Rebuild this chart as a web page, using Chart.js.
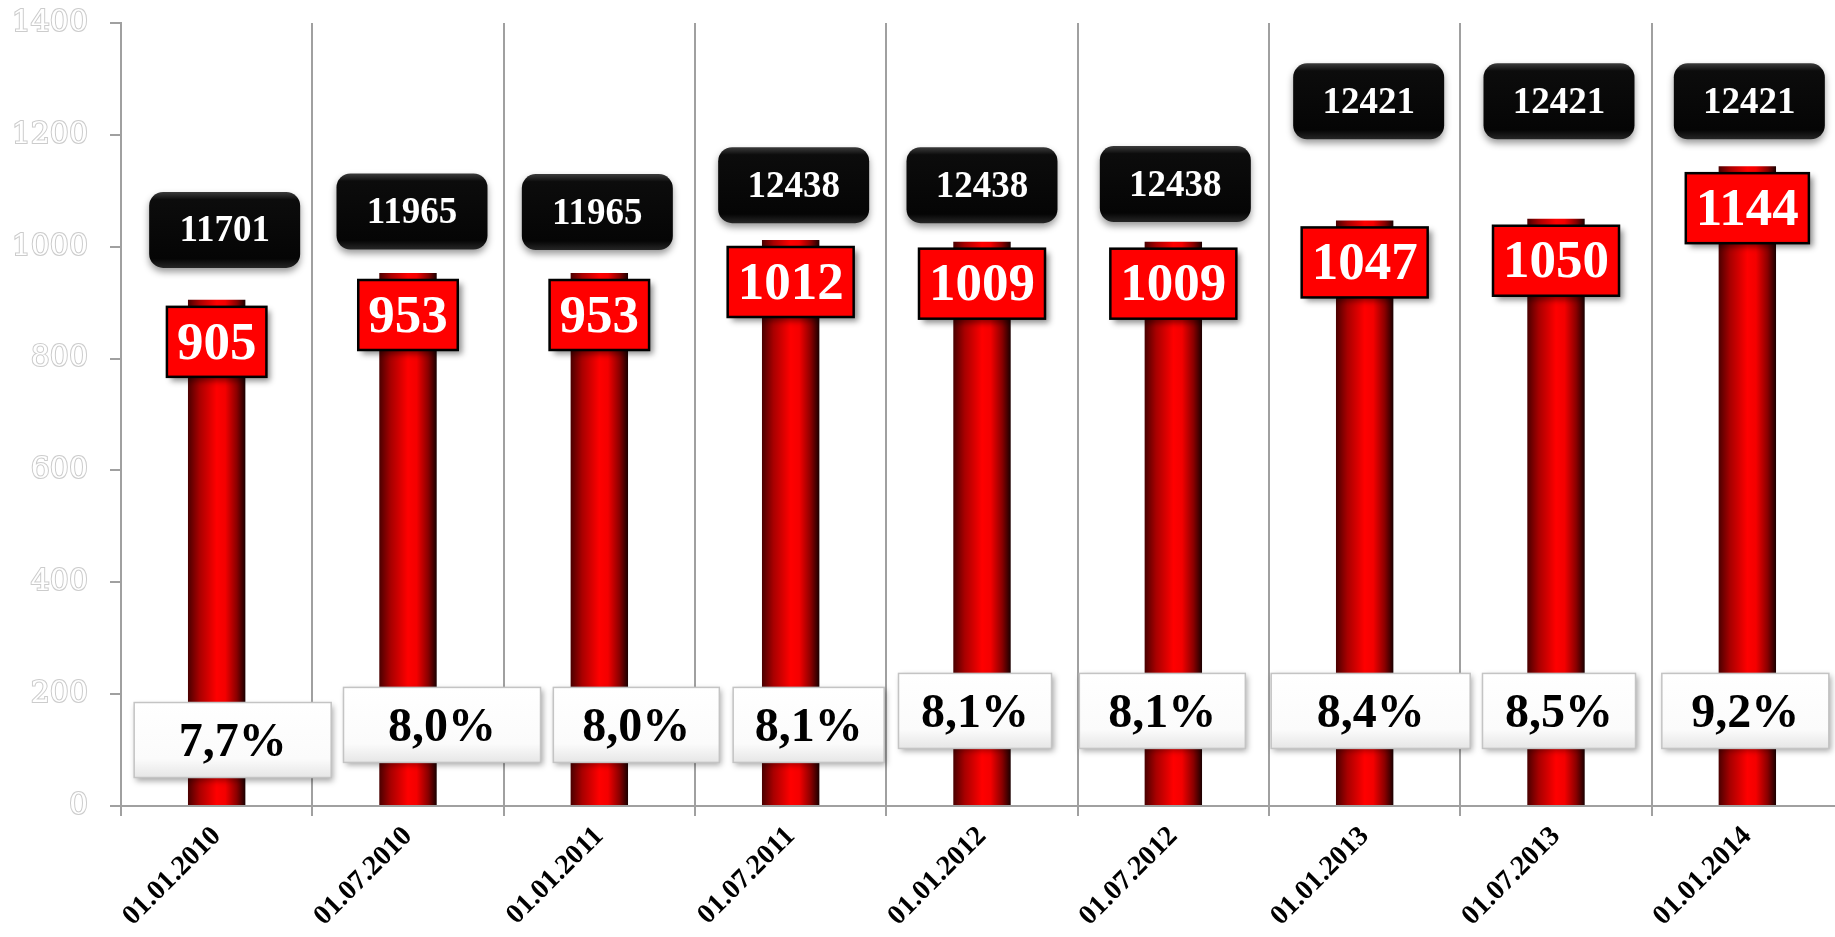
<!DOCTYPE html>
<html>
<head>
<meta charset="utf-8">
<script src="https://cdn.jsdelivr.net/npm/chart.js@4.4.0/dist/chart.umd.min.js"></script>
<style>
  html, body { margin: 0; padding: 0; background: #fff; overflow: hidden; }
  canvas { display: block; }
</style>
</head>
<body>
<canvas id="myChart1" width="1850" height="937"></canvas>
<script>
// datos
const fechas = ['01.01.2010', '01.07.2010', '01.01.2011', '01.07.2011', '01.01.2012',
                '01.07.2012', '01.01.2013', '01.07.2013', '01.01.2014'];
const valores = [905, 953, 953, 1012, 1009, 1009, 1047, 1050, 1144];
const totales = [11701, 11965, 11965, 12438, 12438, 12438, 12421, 12421, 12421];
const porcentajes = [7.7, 8.0, 8.0, 8.1, 8.1, 8.1, 8.4, 8.5, 9.2];

const serif = '"Liberation Serif", "Times New Roman", serif';
const gris = '#a0a0a0';

// cilindro rojo: degradado horizontal por barra
function colorBarra(c) {
  const chart = c.chart;
  const xs = chart.scales.x;
  if (!xs || !chart.chartArea) return '#e00000';
  const cx = xs.getPixelForValue(c.dataIndex);
  const half = (xs.width / fechas.length) * 0.3 / 2;
  const g = chart.ctx.createLinearGradient(cx - half, 0, cx + half, 0);
  g.addColorStop(0, '#4a0000');
  g.addColorStop(0.2, '#a80000');
  g.addColorStop(0.5, '#ff0000');
  g.addColorStop(0.65, '#f40000');
  g.addColorStop(0.85, '#8a0000');
  g.addColorStop(1, '#1a0000');
  return g;
}

// etiquetas en cajas (posiciones en unidades del eje y)
const cajas = {
  id: 'cajas',
  afterDatasetsDraw(chart, args, opts) {
    const ctx = chart.ctx;
    const xs = chart.scales.x, ys = chart.scales.y;
    const barras = chart.getDatasetMeta(0).data;
    ctx.save();
    ctx.textAlign = 'center';
    ctx.textBaseline = 'middle';

    fechas.forEach((f, i) => {
      const cx = xs.getPixelForValue(i);

      // caja blanca con porcentaje
      const w = opts.anchoPct[i], h = 75;
      const px = cx + opts.despPct[i] - w / 2;
      const py = ys.getPixelForValue(opts.nivelPct[i]) - h / 2;
      ctx.save();
      ctx.shadowColor = 'rgba(0,0,0,0.35)';
      ctx.shadowBlur = 6; ctx.shadowOffsetX = 2; ctx.shadowOffsetY = 3;
      let g = ctx.createLinearGradient(0, py, 0, py + h);
      g.addColorStop(0, '#ffffff'); g.addColorStop(0.75, '#fbfbfb'); g.addColorStop(1, '#e6e6e6');
      ctx.fillStyle = g;
      ctx.fillRect(px, py, w, h);
      ctx.restore();
      ctx.strokeStyle = '#c4c4c4'; ctx.lineWidth = 1.5;
      ctx.strokeRect(px, py, w, h);
      ctx.fillStyle = '#000';
      ctx.font = 'bold 48px ' + serif;
      ctx.fillText(porcentajes[i].toFixed(1).replace('.', ',') + '%', px + w / 2, py + h / 2 + 4);

      // caja negra con total
      const bw = 151, bh = 76;
      const bx = cx + opts.despTotal[i] - bw / 2;
      const by = ys.getPixelForValue(opts.nivelTotal[i]) - bh / 2;
      ctx.save();
      ctx.shadowColor = 'rgba(0,0,0,0.4)';
      ctx.shadowBlur = 7; ctx.shadowOffsetX = 0; ctx.shadowOffsetY = 4;
      g = ctx.createLinearGradient(0, by, 0, by + bh);
      g.addColorStop(0, '#3c3c3c'); g.addColorStop(0.1, '#0c0c0c');
      g.addColorStop(0.88, '#050505'); g.addColorStop(1, '#262626');
      ctx.fillStyle = g;
      ctx.beginPath();
      ctx.roundRect(bx, by, bw, bh, 14);
      ctx.fill();
      ctx.restore();
      ctx.fillStyle = '#fff';
      ctx.font = 'bold 37px ' + serif;
      ctx.fillText(String(totales[i]), bx + bw / 2, by + bh / 2 + 2);

      // caja roja con valor, pegada a la parte superior de la barra
      const el = barras[i];
      ctx.font = 'bold 53px ' + serif;
      const txt = String(valores[i]);
      const rw = ctx.measureText(txt).width + 20, rh = 70;
      const rx = el.x - rw / 2, ry = el.y + 7;
      ctx.save();
      ctx.shadowColor = 'rgba(0,0,0,0.45)';
      ctx.shadowBlur = 6; ctx.shadowOffsetX = 4; ctx.shadowOffsetY = 4;
      ctx.fillStyle = '#ff0000';
      ctx.fillRect(rx, ry, rw, rh);
      ctx.restore();
      ctx.strokeStyle = '#000'; ctx.lineWidth = 2.5;
      ctx.strokeRect(rx, ry, rw, rh);
      ctx.fillStyle = '#fff';
      ctx.fillText(txt, el.x, ry + rh / 2 + 3);
    });
    ctx.restore();
  }
};

new Chart(document.getElementById('myChart1'), {
  type: 'bar',
  data: {
    labels: fechas,
    datasets: [{
      label: 'Valores',
      data: valores,
      backgroundColor: colorBarra,
      borderWidth: 0,
      categoryPercentage: 0.3,
      barPercentage: 1.0
    }]
  },
  plugins: [cajas],
  options: {
    responsive: false,
    animation: false,
    layout: { padding: { top: 23, right: 7, left: 0, bottom: 0 } },
    plugins: {
      legend: { display: false },
      tooltip: { enabled: false },
      cajas: {
        nivelPct:   [118, 145, 145, 145, 170, 170, 170, 170, 170],
        anchoPct:   [197, 197, 166, 151, 153, 166, 199, 153, 167],
        despPct:    [16, 34, 37, 18, -7, -11, 6, 3, -2],
        nivelTotal: [1030, 1063, 1062, 1110, 1110, 1112, 1260, 1260, 1260],
        despTotal:  [8, 4, -2, 3, 0, 2, 4, 3, 2]
      }
    },
    scales: {
      x: {
        grid: { offset: true, color: gris, lineWidth: 2, tickLength: 10 },
        border: { color: gris, width: 2 },
        ticks: {
          autoSkip: false, minRotation: 45, maxRotation: 45,
          color: '#000', padding: 4,
          font: { family: serif, size: 28, weight: 'bold' }
        },
        afterFit: (s) => { s.height = 131; s.paddingLeft = 0; s.paddingRight = 0; }
      },
      y: {
        min: 0, max: 1400,
        grid: { drawOnChartArea: false, color: gris, lineWidth: 2, tickLength: 11 },
        border: { color: gris, width: 2 },
        ticks: {
          stepSize: 200, padding: 22,
          callback: (v) => String(v),
          color: '#ffffff', textStrokeColor: '#cccccc', textStrokeWidth: 2,
          font: { family: '"DejaVu Serif", serif', size: 30 }
        },
        afterFit: (s) => { s.width = 121; s.paddingTop = 0; s.paddingBottom = 0; }
      }
    }
  }
});
</script>
</body>
</html>
